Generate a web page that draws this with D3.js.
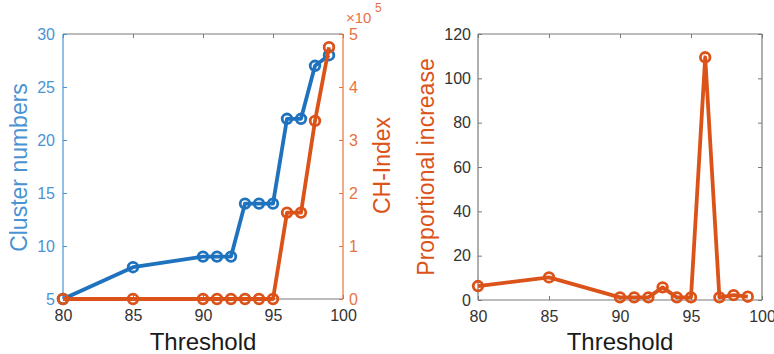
<!DOCTYPE html>
<html>
<head>
<meta charset="utf-8">
<script src="https://cdn.jsdelivr.net/npm/d3@7"></script>
<style>
  html, body { margin: 0; padding: 0; background: #fff; }
  svg { display: block; }
  text { font-family: "Liberation Sans", Arial, Helvetica, sans-serif; }
</style>
</head>
<body>
<svg id="chart" width="774" height="354"></svg>
<script>
// Threshold sweep results
const thresholds = [80, 85, 90, 91, 92, 93, 94, 95, 96, 97, 98, 99];
const clusterNumbers = [5, 8, 9, 9, 9, 14, 14, 14, 22, 22, 27, 28];
const chIndex = [0, 0, 0, 0, 0, 0, 0, 0, 163000, 163000, 336000, 475000];
const proportionalIncrease = [6.3, 10.2, 1.2, 1.2, 1.2, 5.7, 1.2, 1.2, 109.5, 1.2, 2.2, 1.5];

const xTicks = [80, 85, 90, 95, 100];
const clusterTicks = [5, 10, 15, 20, 25, 30];
const chTicks = [0, 1, 2, 3, 4, 5];          // in units of 1e5
const propTicks = [0, 20, 40, 60, 80, 100, 120];

const BLUE = "#1f72bd";
const BLUE_AXIS = "#4a93d3";
const ORANGE = "#db5319";
const ORANGE_AXIS = "#e8733f";
const GREY = "#7a7a7a";
const TEXT = "#333333";
const TICK_FONT = 16;

const svg = d3.select("#chart");

function styleAxis(g, color, textColor) {
  g.select(".domain").remove();
  g.selectAll(".tick line").attr("stroke", color).attr("stroke-width", 1);
  g.selectAll(".tick text")
    .attr("fill", textColor)
    .style("font-size", TICK_FONT + "px");
}

function frameLine(x1, y1, x2, y2, color) {
  svg.append("line")
    .attr("x1", x1).attr("y1", y1).attr("x2", x2).attr("y2", y2)
    .attr("stroke", color).attr("stroke-width", 1.2);
}

function drawSeries(xs, ys, x, y, color) {
  const data = xs.map((d, i) => [d, ys[i]]);
  const line = d3.line().x(d => x(d[0])).y(d => y(d[1]));
  svg.append("path")
    .datum(data)
    .attr("d", line)
    .attr("fill", "none")
    .attr("stroke", color)
    .attr("stroke-width", 3.8)
    .attr("stroke-linejoin", "round");
  svg.append("g").selectAll("circle")
    .data(data)
    .join("circle")
    .attr("cx", d => x(d[0]))
    .attr("cy", d => y(d[1]))
    .attr("r", 4.8)
    .attr("fill", "none")
    .attr("stroke", color)
    .attr("stroke-width", 2.8);
}

// ---------- Left panel: cluster numbers and CH-Index ----------
{
  const L = 63, R = 343, T = 34, B = 299;
  const x = d3.scaleLinear().domain([80, 100]).range([L, R]);
  const yL = d3.scaleLinear().domain([5, 30]).range([B, T]);
  const yR = d3.scaleLinear().domain([0, 500000]).range([B, T]);

  const tickLen = 4;

  // bottom / top axes
  const gB = svg.append("g").attr("transform", `translate(0,${B})`)
    .call(d3.axisBottom(x).tickValues(xTicks).tickSize(-tickLen).tickPadding(11));
  styleAxis(gB, GREY, TEXT);
  const gT = svg.append("g").attr("transform", `translate(0,${T})`)
    .call(d3.axisTop(x).tickValues(xTicks).tickSize(-tickLen).tickFormat(""));
  styleAxis(gT, GREY, TEXT);
  frameLine(L, T, R, T, GREY);
  frameLine(L, B, R, B, GREY);

  // left (blue) axis
  const gL = svg.append("g").attr("transform", `translate(${L},0)`)
    .call(d3.axisLeft(yL).tickValues(clusterTicks).tickSize(-tickLen).tickPadding(8));
  styleAxis(gL, BLUE_AXIS, BLUE_AXIS);
  frameLine(L, T, L, B, BLUE_AXIS);

  // right (orange) axis, values scaled by 1e5
  const gR = svg.append("g").attr("transform", `translate(${R},0)`)
    .call(d3.axisRight(yR).tickValues(chTicks.map(v => v * 1e5))
      .tickFormat(v => String(v / 1e5)).tickSize(-tickLen).tickPadding(6));
  styleAxis(gR, ORANGE_AXIS, ORANGE_AXIS);
  frameLine(R, T, R, B, ORANGE_AXIS);

  // exponent marker for the right axis
  svg.append("text")
    .attr("x", 346).attr("y", 23)
    .attr("fill", ORANGE_AXIS)
    .style("font-size", "15px")
    .text("\u00d710");
  svg.append("text")
    .attr("x", 375).attr("y", 12)
    .attr("fill", ORANGE_AXIS)
    .style("font-size", "12px")
    .text("5");

  // series
  drawSeries(thresholds, clusterNumbers, x, yL, BLUE);
  drawSeries(thresholds, chIndex, x, yR, ORANGE);

  // axis titles
  svg.append("text")
    .attr("transform", `translate(27,${(T + B) / 2 + 1}) rotate(-90)`)
    .attr("text-anchor", "middle")
    .attr("fill", BLUE_AXIS)
    .style("font-size", "23px")
    .text("Cluster numbers");
  svg.append("text")
    .attr("transform", `translate(390,${(T + B) / 2 - 1}) rotate(-90)`)
    .attr("text-anchor", "middle")
    .attr("fill", ORANGE)
    .style("font-size", "23px")
    .text("CH-Index");
  svg.append("text")
    .attr("x", (L + R) / 2).attr("y", 350)
    .attr("text-anchor", "middle")
    .attr("fill", "#1a1a1a")
    .style("font-size", "24px")
    .text("Threshold");
}

// ---------- Right panel: proportional increase ----------
{
  const L = 478, R = 762, T = 34, B = 300;
  const x = d3.scaleLinear().domain([80, 100]).range([L, R]);
  const y = d3.scaleLinear().domain([0, 120]).range([B, T]);
  const tickLen = 4;

  const gB = svg.append("g").attr("transform", `translate(0,${B})`)
    .call(d3.axisBottom(x).tickValues(xTicks).tickSize(-tickLen).tickPadding(11));
  styleAxis(gB, GREY, TEXT);
  const gT = svg.append("g").attr("transform", `translate(0,${T})`)
    .call(d3.axisTop(x).tickValues(xTicks).tickSize(-tickLen).tickFormat(""));
  styleAxis(gT, GREY, TEXT);
  const gL = svg.append("g").attr("transform", `translate(${L},0)`)
    .call(d3.axisLeft(y).tickValues(propTicks).tickSize(-tickLen).tickPadding(7));
  styleAxis(gL, GREY, TEXT);
  const gR = svg.append("g").attr("transform", `translate(${R},0)`)
    .call(d3.axisRight(y).tickValues(propTicks).tickSize(-tickLen).tickFormat(""));
  styleAxis(gR, GREY, TEXT);

  frameLine(L, T, R, T, GREY);
  frameLine(L, B, R, B, GREY);
  frameLine(L, T, L, B, GREY);
  frameLine(R, T, R, B, GREY);

  drawSeries(thresholds, proportionalIncrease, x, y, ORANGE);

  svg.append("text")
    .attr("transform", `translate(434,${(T + B) / 2}) rotate(-90)`)
    .attr("text-anchor", "middle")
    .attr("fill", ORANGE)
    .style("font-size", "23px")
    .text("Proportional increase");
  svg.append("text")
    .attr("x", (L + R) / 2).attr("y", 350)
    .attr("text-anchor", "middle")
    .attr("fill", "#1a1a1a")
    .style("font-size", "24px")
    .text("Threshold");
}
</script>
</body>
</html>
